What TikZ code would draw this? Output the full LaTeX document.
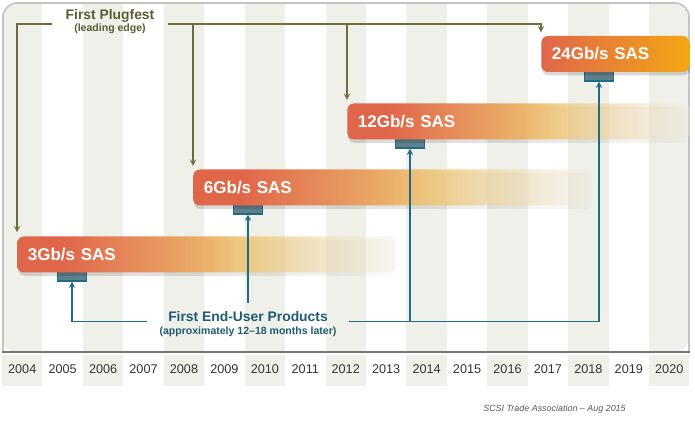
\documentclass[tikz,border=0pt]{standalone}
\usepackage{fontspec}
\setmainfont{Liberation Sans}
\usetikzlibrary{fadings, shadows}

\definecolor{stripegray}{HTML}{F0F0EA}
\definecolor{framegray}{HTML}{C4C4C0}
\definecolor{basegray}{HTML}{76767A}
\definecolor{plugolive}{HTML}{6E6E3C}
\definecolor{plugtext}{HTML}{5C5C32}
\definecolor{userteal}{HTML}{1F6C84}
\definecolor{usertext}{HTML}{1E5A70}
\definecolor{tabfill}{HTML}{5E7F8C}
\definecolor{barred}{HTML}{E0664A}
\definecolor{barorange}{HTML}{E8A062}
\definecolor{baryellow}{HTML}{EFC676}
\definecolor{barpale}{HTML}{EFEBDD}
\definecolor{baramber}{HTML}{F2A614}

\pgfdeclarehorizontalshading{sasfade}{100bp}{color(0bp)=(barred); color(25bp)=(barred); color(31bp)=(barred); color(46bp)=(barorange); color(55bp)=(baryellow); color(75bp)=(barpale); color(100bp)=(barpale)}
\tikzfading[name=barfade, left color=transparent!0, right color=transparent!65, middle color=transparent!0]
\tikzfading[name=shadowfade, left color=transparent!0, right color=transparent!90, middle color=transparent!30]

\begin{document}
\begin{tikzpicture}[x=0.75pt, y=-0.75pt, >=stealth,
    sasbase/.style={rounded corners=5pt, minimum height=27pt, inner xsep=8pt, anchor=west, align=left, text=white, font=\fontsize{12.75pt}{14pt}\selectfont\bfseries},
    sasbar/.style={sasbase, shade, shading=sasfade, path fading=barfade, drop shadow={shadow xshift=0.5pt, shadow yshift=-2.5pt, fill=black, opacity=0.15, path fading=shadowfade}},
    sasfull/.style={sasbase, left color=barred, right color=baramber, drop shadow={shadow xshift=0.5pt, shadow yshift=-2.5pt, fill=black, opacity=0.15}},
    tabbox/.style={draw=userteal, line width=0.9pt, fill=tabfill, minimum width=22pt, minimum height=7.5pt, inner sep=0pt},
    plugline/.style={draw=plugolive, line width=1.1pt, ->},
    userline/.style={draw=userteal, line width=1.1pt, ->},
    plugnote/.style={align=center, text=plugtext, inner xsep=9.75pt, font=\fontsize{10.4pt}{8.5pt}\selectfont\bfseries},
    usernote/.style={align=center, text=usertext, inner xsep=9.5pt, inner ysep=6.5pt, font=\fontsize{10.4pt}{9.5pt}\selectfont\bfseries},
    yearlabel/.style={text=black!80, font=\fontsize{9.5pt}{11pt}\selectfont},
    sourcenote/.style={text=black!65, font=\fontsize{6.7pt}{8pt}\selectfont\itshape}]
  \useasboundingbox (0,0) rectangle (695,427);

  % Year columns
  \begin{scope}
    \clip[rounded corners=10.5pt] (2,352) -- (2,3) -- (689,3) -- (689,352) -- cycle;
    \foreach \i in {0,2,...,16}
      \fill[stripegray] ({2+\i*40.44},0) rectangle ({2+(\i+1)*40.44},352);
  \end{scope}
  \draw[framegray, line width=1.2pt, rounded corners=10.5pt] (3,352) -- (3,3) -- (689,3) -- (689,352);
  \draw[basegray, line width=1.5pt] (2,352) -- (690,352);

  % Year row
  \foreach \i in {0,2,...,16}
    \fill[stripegray] ({2+\i*40.44},355) rectangle ({2+(\i+1)*40.44},386);
  \foreach \i in {0,...,16}
    \node[yearlabel] (year\i) at ({2+(\i+0.5)*40.44},369) {\the\numexpr2004+\i\relax};

  % Tabs under the bars
  \node[tabbox] (tab3) at (72,276) {};
  \node[tabbox] (tab6) at (248,209) {};
  \node[tabbox] (tab12) at (410,143) {};
  \node[tabbox] (tab24) at (599,76) {};

  % Bars
  \node[sasbar, text width=267.5pt] (sas3) at (17,254.5) {3Gb/s SAS};
  \node[sasbar, text width=283pt] (sas6) at (193,187.5) {6Gb/s SAS};
  \node[sasbar, text width=241pt] (sas12) at (347,121.5) {12Gb/s SAS};
  \node[sasfull, text width=95pt] (sas24) at (541,54) {24Gb/s SAS};

  % First plugfest
  \node[plugnote] (plugfest) at (110,21.6) {First Plugfest\\{\fontsize{7.9pt}{8.5pt}\selectfont(leading edge)}};
  \draw[plugline] ([yshift=-1.8pt]plugfest.west) -| ([yshift=3pt]sas3.north west);
  \draw[plugline] ([yshift=-1.8pt]plugfest.east) -| ([yshift=2.5pt]sas24.north west);
  \draw[plugline] ([yshift=-1.8pt]plugfest.east -| sas6.north west) -- ([yshift=2.5pt]sas6.north west);
  \draw[plugline] ([yshift=-1.8pt]plugfest.east -| sas12.north west) -- ([yshift=2.5pt]sas12.north west);

  % First end-user products
  \node[usernote] (enduser) at (248,324.2) {First End-User Products\\{\fontsize{7.9pt}{9.5pt}\selectfont(approximately 12--18 months later)}};
  \draw[userline] ([yshift=2pt]enduser.west) -| (tab3.south);
  \draw[userline] ([yshift=2pt]enduser.east) -| (tab24.south);
  \draw[userline] ([yshift=2pt]enduser.east -| tab12.south) -- (tab12.south);
  \draw[userline] (enduser.north -| tab6.south) -- (tab6.south);

  % Source
  \node[sourcenote] (source) at (554.5,409) {SCSI Trade Association -- Aug 2015};
\end{tikzpicture}
\end{document}
